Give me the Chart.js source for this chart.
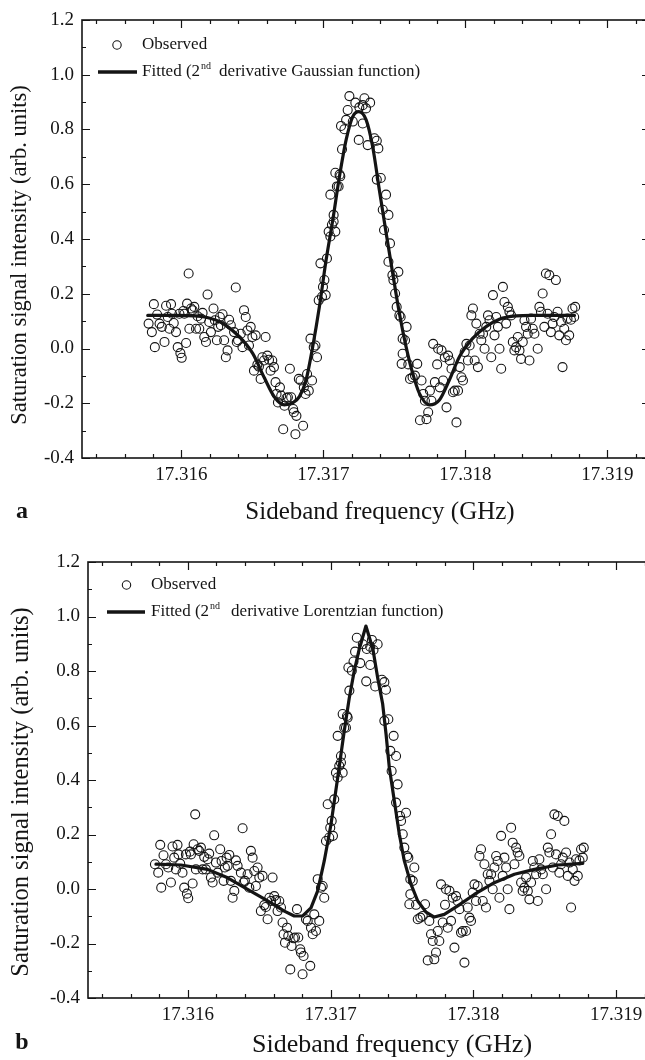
<!DOCTYPE html>
<html><head><meta charset="utf-8">
<script src="https://cdn.jsdelivr.net/npm/chart.js@4.4.1/dist/chart.umd.min.js"></script>
<style>
html,body{margin:0;padding:0;background:#fff;overflow:hidden;width:645px;height:1060px;}
#wrap{position:relative;width:645px;height:1060px;overflow:hidden;background:#fff;}
canvas{position:absolute;left:0;}
#ca{top:0;} #cb{top:540px;}
</style></head><body>
<div id="wrap"><canvas id="ca" width="700" height="540"></canvas><canvas id="cb" width="700" height="520"></canvas></div>
<script>
// Observed data (same measurement shown in both panels)
const obsX = [
17.315769,17.315792,17.315806,17.315813,17.315829,17.315846,17.315862,17.315881,17.315892,17.315904,
17.315916,17.315927,17.315934,17.315946,17.315962,17.315974,17.315986,17.315993,17.316002,17.316014,
17.316021,17.316033,17.316040,17.316051,17.316056,17.316068,17.316079,17.316091,17.316103,17.316114,
17.316126,17.316138,17.316149,17.316161,17.316173,17.316184,17.316196,17.316208,17.316226,17.316236,
17.316250,17.316259,17.316271,17.316278,17.316290,17.316301,17.316313,17.316325,17.316336,17.316348,
17.316371,17.316383,17.316390,17.316399,17.316418,17.316430,17.316441,17.316453,17.316465,17.316476,
17.316488,17.316500,17.316511,17.316523,17.316535,17.316546,17.316558,17.316570,17.316582,17.316593,
17.316605,17.316617,17.316628,17.316640,17.316652,17.316663,17.316670,17.316680,17.316694,17.316703,
17.316717,17.316726,17.316740,17.316750,17.316764,17.316773,17.316787,17.316792,17.316803,17.316810,
17.316827,17.316839,17.316857,17.316862,17.316874,17.316885,17.316897,17.316909,17.316920,17.316932,
17.316944,17.316955,17.316967,17.316979,17.316990,17.316997,17.317007,17.317016,17.317025,17.317037,
17.317049,17.317060,17.317072,17.317084,17.317095,17.317107,17.317114,17.317119,17.317049,17.317072,
17.317084,
17.317183,17.317225,17.317289,17.317329,17.317277,17.317253,17.317171,17.317300,17.317160,17.317124,
17.317207,17.317277,17.317148,17.317249,17.317312,17.317359,17.317376,17.317387,17.317131,
17.317376,17.317404,17.317418,17.317441,17.317427,17.317458,17.317469,17.317458,17.317486,17.317493,
17.317505,17.317516,17.317528,17.317535,17.317544,17.317558,17.317575,17.317586,17.317558,17.317551,
17.317598,17.317610,17.317628,17.317645,17.317661,17.317680,17.317691,17.317703,17.317715,17.317738,
17.317726,17.317750,17.317761,17.317773,17.317785,17.317801,17.317808,17.317820,17.317832,17.317843,
17.317855,17.317867,17.317878,17.317890,17.317902,17.317913,17.317925,17.317937,17.317948,17.317960,
17.317972,17.317983,17.317995,17.318007,17.318018,17.318030,17.318042,17.318053,17.318065,17.318077,
17.318088,17.318100,17.318112,17.318124,17.318135,17.318147,17.318159,17.318170,17.318182,17.318194,
17.318205,17.318217,17.318229,17.318240,17.318252,17.318264,17.318275,17.318287,17.318299,17.318310,
17.318322,17.318334,17.318345,17.318357,17.318369,17.318381,17.318392,17.318404,17.318416,17.318427,
17.318439,17.318451,17.318462,17.318474,17.318486,17.318509,17.318521,17.318532,17.318544,17.318556,
17.318567,17.318579,17.318591,17.318602,17.318614,17.318626,17.318637,17.318649,17.318661,17.318673,
17.318684,17.318696,17.318708,17.318719,17.318731,17.318743,17.318754,17.318766,17.318773];
const obsY = [
0.091,0.060,0.162,0.005,0.124,0.091,0.079,0.024,0.156,0.115,
0.072,0.162,0.127,0.093,0.060,0.005,0.127,-0.017,-0.034,0.137,
0.127,0.020,0.164,0.274,0.072,0.146,0.140,0.152,0.072,0.118,
0.072,0.109,0.130,0.042,0.024,0.197,0.097,0.060,0.146,0.103,
0.030,0.079,0.115,0.085,0.125,0.030,-0.032,-0.007,0.105,0.085,
0.060,0.223,0.024,0.030,0.054,0.005,0.140,0.115,0.066,0.011,
0.079,0.042,-0.081,0.048,-0.059,-0.066,-0.111,-0.032,-0.044,0.042,
-0.026,-0.041,-0.081,-0.044,-0.068,-0.123,-0.166,-0.197,-0.142,-0.172,
-0.295,-0.209,-0.181,-0.178,-0.074,-0.178,-0.221,-0.233,-0.313,-0.246,
-0.111,-0.117,-0.282,-0.142,-0.166,-0.093,-0.154,0.036,-0.117,0.005,
0.011,-0.032,0.176,0.311,0.189,0.225,0.250,0.195,0.329,0.427,
0.409,0.452,0.464,0.427,0.592,0.592,0.635,0.629,0.562,0.488,
0.642,
0.922,0.898,0.914,0.898,0.889,0.881,0.871,0.877,0.835,0.813,
0.829,0.822,0.801,0.762,0.743,0.768,0.759,0.731,0.728,
0.617,0.623,0.507,0.562,0.433,0.488,0.384,0.317,0.268,0.250,
0.201,0.152,0.280,0.121,0.115,0.036,0.030,0.079,-0.019,-0.056,
-0.058,-0.111,-0.105,-0.099,-0.056,-0.262,-0.117,-0.166,-0.191,-0.233,
-0.258,-0.154,-0.191,0.017,-0.123,-0.058,-0.001,-0.142,-0.007,-0.117,
-0.032,-0.215,-0.026,-0.044,-0.074,-0.160,-0.154,-0.270,-0.154,-0.068,
-0.105,-0.117,-0.013,0.017,-0.044,0.011,0.121,0.146,-0.044,0.091,
-0.068,0.054,0.030,0.054,-0.001,0.079,0.121,0.103,-0.032,0.195,
0.048,0.115,0.079,-0.001,-0.074,0.225,0.170,0.091,0.152,0.134,
0.121,0.024,-0.007,0.005,0.042,-0.007,-0.038,0.024,0.103,0.079,
0.054,-0.044,0.109,0.072,0.054,-0.001,0.152,0.134,0.201,0.079,
0.274,0.127,0.268,0.060,0.091,0.115,0.250,0.134,0.048,0.097,
-0.068,0.072,0.030,0.109,0.048,0.105,0.146,0.115,0.152];

// Panel a: fitted 2nd derivative Gaussian
const gaussFitX = [17.315763,17.315986,17.316174,17.316291,17.316408,17.316502,17.316585,17.316655,17.316725,17.316782,
17.316831,17.316878,17.316925,17.316972,17.317019,17.317066,17.317113,17.317160,17.317207,17.317249,
17.317301,17.317347,17.317394,17.317442,17.317488,17.317535,17.317582,17.317629,17.317676,17.317746,
17.317817,17.317887,17.317958,17.318051,17.318146,17.318239,17.318357,17.318474,17.318768];
const gaussFitY = [0.121,0.121,0.114,0.092,0.043,-0.018,-0.108,-0.177,-0.206,-0.199,
-0.176,-0.115,0.007,0.153,0.323,0.469,0.628,0.762,0.847,0.865,
0.835,0.737,0.579,0.421,0.275,0.129,0.007,-0.091,-0.164,-0.206,
-0.188,-0.115,-0.030,0.037,0.080,0.107,0.119,0.121,0.121];

// Panel b: fitted 2nd derivative Lorentzian
const lorentzFitX = [17.315776,17.315951,17.316138,17.316278,17.316418,17.316559,17.316675,17.316745,17.316804,17.316862,
17.316909,17.316955,17.317002,17.317049,17.317095,17.317130,17.317165,17.317200,17.317247,17.317296,
17.317331,17.317364,17.317388,17.317411,17.317446,17.317481,17.317516,17.317563,17.317610,17.317668,
17.317726,17.317796,17.317890,17.318006,17.318146,17.318287,17.318427,17.318591,17.318766];
const lorentzFitY = [0.091,0.088,0.072,0.041,-0.001,-0.044,-0.081,-0.099,-0.099,-0.069,
-0.007,0.103,0.237,0.408,0.580,0.700,0.800,0.880,0.965,0.880,
0.770,0.680,0.568,0.445,0.323,0.201,0.103,0.017,-0.044,-0.085,
-0.103,-0.093,-0.062,-0.020,0.023,0.054,0.072,0.088,0.094];

const xTickValues = [17.316, 17.317, 17.318, 17.319];
const yTickValues = [-0.4, -0.2, 0.0, 0.2, 0.4, 0.6, 0.8, 1.0, 1.2];
const xLabel = 'Sideband frequency (GHz)';
const yLabel = 'Saturation signal intensity (arb. units)';
const legendObserved = 'Observed';
const legendFitA = ['Fitted (2', 'nd', 'derivative Gaussian function)'];
const legendFitB = ['Fitted (2', 'nd', 'derivative Lorentzian function)'];
const panelLetters = ['a', 'b'];

const INK = '#141414';
const SERIF = '"Liberation Serif", "DejaVu Serif", serif';

const panelCfg = {
  ca: { letter: panelLetters[0], fit: legendFitA,
        circ: [117, 45], txtX: 142, obsY: 45, line: [98, 137, 72], gap: 8,
        xt: [380, 512, 25], yt: [20, 255, 22.5], lt: [22, 512] },
  cb: { letter: panelLetters[1], fit: legendFitB,
        circ: [126.5, 45], txtX: 151, obsY: 45, line: [107, 145, 72], gap: 11,
        xt: [392, 505, 26], yt: [22, 252, 24.5], lt: [22, 503] }
};

const framePlugin = {
  id: 'frame',
  afterDraw(chart) {
    const c = panelCfg[chart.canvas.id];
    const ctx = chart.ctx, a = chart.chartArea;
    const sx = chart.scales.x, sy = chart.scales.y;
    ctx.save();
    ctx.strokeStyle = INK; ctx.fillStyle = INK;
    ctx.lineWidth = 1.2;
    ctx.beginPath();
    for (let k = 173154; k <= 173192; k += 2) {
      const px = Math.round(sx.getPixelForValue(k / 10000)) + 0.5;
      const len = (k % 10 === 0) ? 8 : 4;
      ctx.moveTo(px, a.bottom); ctx.lineTo(px, a.bottom - len);
      ctx.moveTo(px, a.top); ctx.lineTo(px, a.top + len);
    }
    for (let k = -4; k <= 12; k++) {
      const py = Math.round(sy.getPixelForValue(k / 10)) + 0.5;
      const len = (Math.abs(k) % 2 === 0) ? 8 : 4;
      ctx.moveTo(a.left, py); ctx.lineTo(a.left + len, py);
      ctx.moveTo(a.right, py); ctx.lineTo(a.right - len, py);
    }
    ctx.stroke();
    ctx.lineWidth = 1.6;
    ctx.strokeRect(a.left, a.top, a.right - a.left, a.bottom - a.top);

    // legend
    ctx.lineWidth = 1.1;
    ctx.beginPath(); ctx.arc(c.circ[0], c.circ[1], 4.2, 0, Math.PI * 2); ctx.stroke();
    ctx.font = '17px ' + SERIF; ctx.textBaseline = 'middle'; ctx.textAlign = 'left';
    ctx.fillText(legendObserved, c.txtX, c.obsY);
    ctx.lineWidth = 3.5;
    ctx.beginPath(); ctx.moveTo(c.line[0], c.line[2]); ctx.lineTo(c.line[1], c.line[2]); ctx.stroke();
    let x = c.txtX;
    ctx.fillText(c.fit[0], x, c.line[2]);
    x += ctx.measureText(c.fit[0]).width + 1;
    ctx.font = '10px ' + SERIF;
    ctx.fillText(c.fit[1], x, c.line[2] - 6);
    x += ctx.measureText(c.fit[1]).width + c.gap;
    ctx.font = '17px ' + SERIF;
    ctx.fillText(c.fit[2], x, c.line[2]);

    // axis titles
    ctx.textAlign = 'center';
    ctx.font = c.xt[2] + 'px ' + SERIF;
    ctx.fillText(xLabel, c.xt[0], c.xt[1]);
    ctx.save();
    ctx.translate(c.yt[0], c.yt[1]); ctx.rotate(-Math.PI / 2);
    ctx.font = c.yt[2] + 'px ' + SERIF;
    ctx.fillText(yLabel, 0, 0);
    ctx.restore();
    ctx.font = 'bold 24px ' + SERIF;
    ctx.fillText(c.letter, c.lt[0], c.lt[1]);
    ctx.restore();
  }
};

function makeChart(id, fitX, fitY, smooth, pad, yw, xh) {
  const obs = obsX.map((v, i) => ({ x: v, y: obsY[i] }));
  const fit = fitX.map((v, i) => ({ x: v, y: fitY[i] }));
  const tickFont = { family: SERIF, size: 19 };
  return new Chart(document.getElementById(id), {
    type: 'scatter',
    data: { datasets: [
      { label: 'Fitted', data: fit, showLine: true, borderColor: INK, borderWidth: 3.2,
        pointRadius: 0, pointHoverRadius: 0, tension: smooth ? 0.4 : 0,
        cubicInterpolationMode: smooth ? 'monotone' : 'default', order: 0,
        borderCapStyle: 'round', borderJoinStyle: 'round', fill: false },
      { label: 'Observed', data: obs, showLine: false, pointStyle: 'circle', pointRadius: 4.5,
        pointHoverRadius: 4.5, pointBorderWidth: 1.1, pointBorderColor: INK,
        pointBackgroundColor: 'rgba(255,255,255,0)', order: 1 }
    ]},
    options: {
      responsive: false, animation: false, devicePixelRatio: 1,
      events: [],
      layout: { padding: pad },
      plugins: { legend: { display: false }, tooltip: { enabled: false } },
      scales: {
        x: { type: 'linear', min: 17.3153, max: 17.3193,
             grid: { display: false, drawTicks: false }, border: { display: false },
             afterBuildTicks: s => { s.ticks = xTickValues.map(v => ({ value: v })); },
             afterFit: s => { s.height = xh; },
             ticks: { padding: 6, color: INK, font: tickFont, maxRotation: 0, autoSkip: false,
                      callback: v => Number(v).toFixed(3) } },
        y: { type: 'linear', min: -0.4, max: 1.2,
             grid: { display: false, drawTicks: false }, border: { display: false },
             afterBuildTicks: s => { s.ticks = yTickValues.map(v => ({ value: v })); },
             afterFit: s => { s.width = yw; },
             ticks: { padding: 8, color: INK, font: tickFont, autoSkip: false,
                      callback: v => Number(v).toFixed(1) } }
      }
    },
    plugins: [framePlugin]
  });
}

makeChart('ca', gaussFitX, gaussFitY, true, { left: 0, right: 50, top: 20, bottom: 0 }, 82, 82);
makeChart('cb', lorentzFitX, lorentzFitY, false, { left: 0, right: 41, top: 22, bottom: 0 }, 88, 62);
</script>
</body></html>
